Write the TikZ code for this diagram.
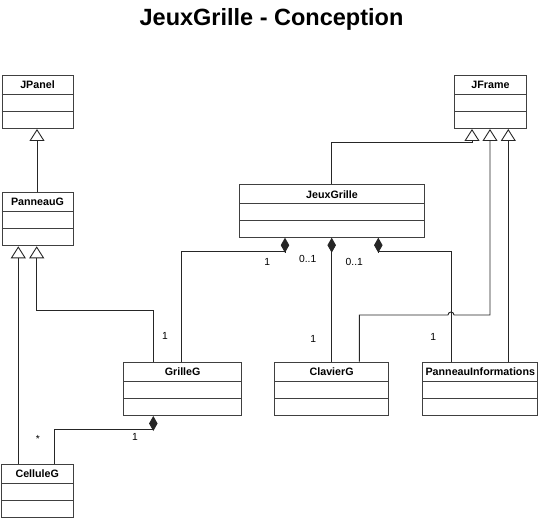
\documentclass[tikz,border=0pt]{standalone}
\usepackage{fontspec}
\setmainfont{Liberation Sans}
\usetikzlibrary{arrows.meta,calc}
\tikzset{
  boxline/.style={draw=black!75, line width=1pt},
  conn/.style={draw=black!85, line width=0.9pt},
  gen/.style={conn, -{Triangle[open, length=12pt, width=15pt]}},
  comp/.style={conn, -{Diamond[length=15pt, width=8.5pt]}},
  mult/.style={font=\fontsize{10.3}{12}\selectfont, inner sep=0pt},
  cname/.style={font=\fontsize{10.7}{12}\selectfont\bfseries, inner sep=0pt},
}
\newcommand\umlbox[6]{%
  \node[boxline, anchor=north west, minimum width=#5pt, minimum height=#6pt, inner sep=0pt] (#1) at (#3,#4) {};
  \node[cname] (#1-t) at ($(#1.north)+(0,10)$) {#2};
  \draw[boxline] ($(#1.north west)+(0,19.7)$) -- ($(#1.north east)+(0,19.7)$);
  \draw[boxline] ($(#1.north west)+(0,36.5)$) -- ($(#1.north east)+(0,36.5)$);
}
\begin{document}
\begin{tikzpicture}[x=1pt, y=-1pt]
\useasboundingbox (0,0) rectangle (538,518);
\node[font=\fontsize{23.5}{27}\selectfont\bfseries, inner sep=0pt] (title) at (271.5,19) {JeuxGrille - Conception};

\umlbox{jpanel}{JPanel}{1.5}{74.7}{71}{53.3}
\umlbox{panneauG}{PanneauG}{1.5}{192.3}{71}{53}
\umlbox{celluleG}{CelluleG}{1}{464}{71.5}{53.3}
\umlbox{jframe}{JFrame}{454}{74.7}{72}{53.3}
\umlbox{jeuxGrille}{JeuxGrille}{239}{184.3}{185}{52.4}
\umlbox{grilleG}{GrilleG}{123.3}{361.7}{117.7}{53.3}
\umlbox{clavierG}{ClavierG}{274.3}{361.7}{113.7}{53.3}
\umlbox{panneauInf}{PanneauInformations}{422.3}{361.7}{115}{53.3}

% attachment points
\coordinate (jpB) at ($(jpanel.south west)+(35.5,0)$);
\coordinate (pgT) at ($(panneauG.north west)+(35.5,0)$);
\coordinate (pgB1) at ($(panneauG.south west)+(16.8,0)$);
\coordinate (pgB2) at ($(panneauG.south west)+(35.2,0)$);
\coordinate (cgT1) at ($(celluleG.north west)+(17.3,0)$);
\coordinate (cgT2) at ($(celluleG.north west)+(53.3,0)$);
\coordinate (ggT1) at ($(grilleG.north west)+(30,0)$);
\coordinate (ggT2) at ($(grilleG.north west)+(58.4,0)$);
\coordinate (ggB) at ($(grilleG.south west)+(30,0)$);
\coordinate (jgT) at ($(jeuxGrille.north west)+(92.7,0)$);
\coordinate (jgB1) at ($(jeuxGrille.south west)+(46,0)$);
\coordinate (jgB2) at ($(jeuxGrille.south west)+(92.7,0)$);
\coordinate (jgB3) at ($(jeuxGrille.south west)+(139.3,0)$);
\coordinate (jfB1) at ($(jframe.south west)+(18,0)$);
\coordinate (jfB2) at ($(jframe.south west)+(36,0)$);
\coordinate (jfB3) at ($(jframe.south west)+(54.3,0)$);
\coordinate (kgT1) at ($(clavierG.north west)+(57.4,0)$);
\coordinate (kgT2) at ($(clavierG.north west)+(85,0)$);
\coordinate (piT1) at ($(panneauInf.north west)+(28.7,0)$);
\coordinate (piT2) at ($(panneauInf.north west)+(86,0)$);
% bends
\coordinate (c1) at ($(ggT1)+(0,-51)$);
\coordinate (c2) at ($(jgT)+(0,-41.6)$);
\coordinate (c3) at ($(kgT2)+(0,-46.7)$);
\coordinate (hop) at (piT1 |- c3);
\coordinate (d1) at ($(ggT2)+(0,-110)$);
\coordinate (d3) at ($(piT1)+(0,-110)$);
\coordinate (d4) at ($(cgT2)+(0,-34.7)$);

% generalisations
\draw[gen] (pgT) -- (jpB);
\draw[gen] (cgT1) -- (pgB1);
\draw[gen] (ggT1) -- (c1) -- (pgB2 |- c1) -- (pgB2);
\draw[gen] (jgT) -- (c2) -- (jfB1 |- c2) -- (jfB1);
\draw[gen] (kgT2) -- (c3) -- ($(hop)+(-3,0)$) arc (180:360:3) -- (jfB2 |- c3) -- (jfB2);
\draw[gen] (piT2) -- (jfB3);

% compositions
\draw[comp] (ggT2) -- (d1) -- (jgB1 |- d1) -- (jgB1);
\draw[comp] (kgT1) -- (jgB2);
\draw[comp] (piT1) -- (d3) -- (jgB3 |- d3) -- (jgB3);
\draw[comp] (cgT2) -- (d4) -- (ggB |- d4) -- (ggB);

% multiplicities
\node[mult] (m1) at (165,336) {1};
\node[mult] (m2) at (38,439) {*};
\node[mult] (m3) at (135,436.7) {1};
\node[mult] (m4) at (267.3,262.3) {1};
\node[mult] (m5) at (307.7,259.3) {0..1};
\node[mult] (m6) at (354.3,262.3) {0..1};
\node[mult] (m7) at (313.3,339) {1};
\node[mult] (m8) at (433.3,336.7) {1};
\end{tikzpicture}
\end{document}
